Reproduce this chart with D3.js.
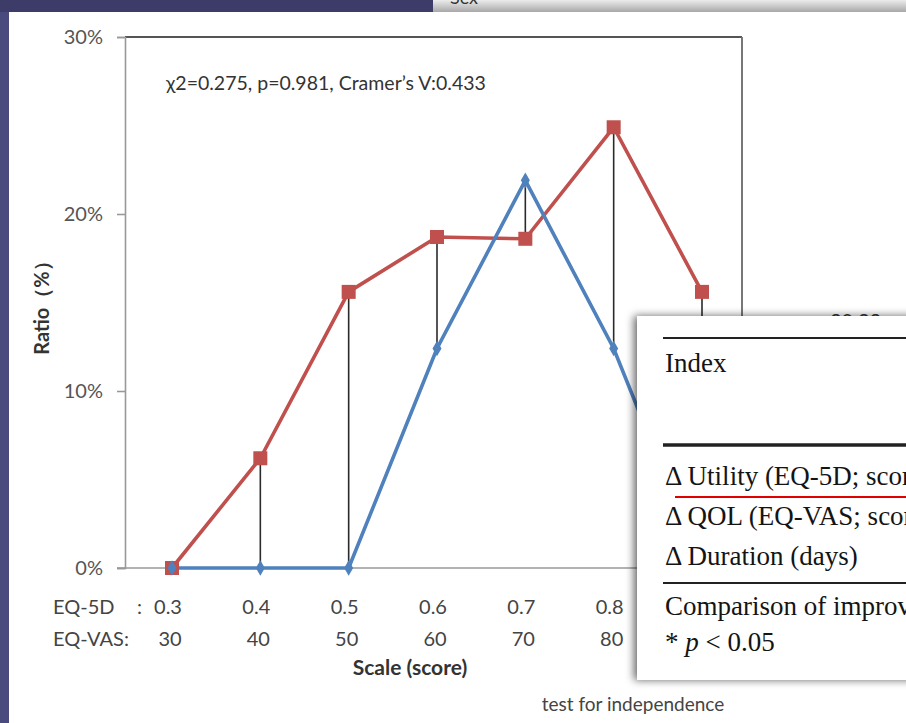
<!DOCTYPE html>
<html>
<head>
<meta charset="utf-8">
<script src="https://cdn.jsdelivr.net/npm/d3@7/dist/d3.min.js"></script>
<style>
  body { margin: 0; background: #4a4879; }
  svg { display: block; }
</style>
</head>
<body>
<div class="chart"></div>
<script>
// categories (two scales share the same positions)
var scale5D  = ["0.3", "0.4", "0.5", "0.6", "0.7", "0.8", "0.9"];
var scaleVAS = ["30", "40", "50", "60", "70", "80", "90"];

// ratio (%)
var redRatio  = [0, 6.2, 15.6, 18.7, 18.6, 24.9, 15.6];
var blueRatio = [0, 0, 0, 12.4, 21.9, 12.4, 0];

var yTicks = [0, 10, 20, 30];
var statsNote = "χ2=0.275, p=0.981, Cramer’s V:0.433";

// the table that lies on top of the chart
var tableRows = [
  {text: "Index", y: 372},
  {text: "Δ Utility (EQ-5D; score)", y: 485},
  {text: "Δ QOL (EQ-VAS; score)", y: 525},
  {text: "Δ Duration (days)", y: 565},
  {text: "Comparison of improvement", y: 615}
];
var tableRules = [{y: 338, w: 2}, {y: 445, w: 3.5}, {y: 583, w: 2}];

var w = 906, h = 723;
var tableLeft = 637;
var svg = d3.select(".chart").append("svg")
    .attr("width", w)
    .attr("height", h);

var defs = svg.append("defs");
var grad = defs.append("linearGradient").attr("id", "strip")
    .attr("x1", 0).attr("y1", 0).attr("x2", 0).attr("y2", 1);
grad.append("stop").attr("offset", "0%").attr("stop-color", "#ececec");
grad.append("stop").attr("offset", "100%").attr("stop-color", "#a8a8a8");
var shadow = defs.append("filter").attr("id", "shadow")
    .attr("x", "-10%").attr("y", "-10%").attr("width", "130%").attr("height", "130%");
shadow.append("feDropShadow").attr("dx", -3).attr("dy", 0)
    .attr("stdDeviation", 4.5).attr("flood-color", "#000").attr("flood-opacity", 0.6);

// slide background
svg.append("rect").attr("width", w).attr("height", h).attr("fill", "#4b4a7e");
svg.append("rect").attr("width", 433).attr("height", 12).attr("fill", "#3d3c69");
svg.append("rect").attr("x", 433).attr("width", w - 433).attr("height", 12).attr("fill", "url(#strip)");
svg.append("text").attr("x", 450).attr("y", 4)
    .attr("font-family", "Lato, sans-serif").attr("font-size", 18).attr("fill", "#333")
    .text("Sex");
svg.append("rect").attr("x", 9).attr("y", 12).attr("width", w - 9).attr("height", h - 12)
    .attr("fill", "#fff");

var x = d3.scalePoint().domain(scale5D).range([172, 702]);
var y = d3.scaleLinear().domain([0, 30]).range([568, 37]);

var chart = svg.append("g")
    .attr("font-family", "Lato, 'Open Sans', sans-serif");

// frame
chart.append("line").attr("x1", 125).attr("x2", 742).attr("y1", y(30)).attr("y2", y(30))
    .attr("stroke", "#555").attr("stroke-width", 2.2);
chart.append("line").attr("x1", 742).attr("x2", 742).attr("y1", y(30)).attr("y2", y(0))
    .attr("stroke", "#777").attr("stroke-width", 2);

// y axis
var yAxis = chart.append("g")
    .attr("transform", "translate(125,0)")
    .call(d3.axisLeft(y).tickValues(yTicks).tickSize(8).tickPadding(14)
      .tickFormat(function(d) { return d + "%"; }));
yAxis.select(".domain").attr("stroke", "#999").attr("stroke-width", 1.6);
yAxis.selectAll(".tick line").attr("stroke", "#999").attr("stroke-width", 1.6);
yAxis.selectAll(".tick text").attr("font-size", 20).attr("fill", "#555")
    .attr("font-family", "Lato, sans-serif");

// x axis base line
chart.append("line").attr("x1", 117).attr("x2", 742).attr("y1", y(0)).attr("y2", y(0))
    .attr("stroke", "#999").attr("stroke-width", 1.6);

// x tick labels, two rows (the last column lies under the table)
var shown = scale5D.filter(function(d) { return x(d) < tableLeft; });
chart.selectAll(".lab5d").data(shown).enter().append("text")
    .attr("x", function(d) { return x(d) - 4; })
    .attr("y", 614)
    .attr("text-anchor", "middle").attr("font-size", 20).attr("fill", "#444")
    .text(function(d) { return d; });
chart.selectAll(".labvas").data(shown).enter().append("text")
    .attr("x", function(d) { return x(d) - 2; })
    .attr("y", 646)
    .attr("text-anchor", "middle").attr("font-size", 20).attr("fill", "#444")
    .text(function(d) { return scaleVAS[scale5D.indexOf(d)]; });
chart.append("text").attr("x", 53).attr("y", 614).attr("font-size", 20).attr("fill", "#444")
    .text("EQ-5D");
chart.append("text").attr("x", x(scale5D[0]) - 30).attr("y", 614).attr("font-size", 20)
    .attr("text-anchor", "end").attr("fill", "#444").text(":");
chart.append("text").attr("x", 53).attr("y", 646).attr("font-size", 20).attr("fill", "#444")
    .text("EQ-VAS:");

chart.append("text").attr("x", 410).attr("y", 675).attr("text-anchor", "middle")
    .attr("font-size", 21).attr("font-weight", "bold").attr("fill", "#333")
    .text("Scale (score)");
chart.append("text").attr("transform", "translate(49,303) rotate(-90)")
    .attr("text-anchor", "middle").attr("font-size", 20).attr("font-weight", "bold")
    .attr("fill", "#333").text("Ratio（%）");
chart.append("text").attr("x", 166).attr("y", 90).attr("font-size", 19.5).attr("fill", "#333")
    .text(statsNote);

// high-low lines
var pairs = scale5D.map(function(c, i) { return {c: c, a: redRatio[i], b: blueRatio[i]}; })
    .filter(function(d) { return d.a !== d.b; });
chart.selectAll(".hilo").data(pairs).enter().append("line")
    .attr("x1", function(d) { return x(d.c); }).attr("x2", function(d) { return x(d.c); })
    .attr("y1", function(d) { return y(Math.max(d.a, d.b)); })
    .attr("y2", function(d) { return y(Math.min(d.a, d.b)); })
    .attr("stroke", "#2a2a2a").attr("stroke-width", 1.6);

var line = d3.line()
    .x(function(d, i) { return x(scale5D[i]); })
    .y(function(d) { return y(d); });

chart.append("path").datum(redRatio).attr("d", line)
    .attr("fill", "none").attr("stroke", "#c0504d").attr("stroke-width", 3.6);
chart.append("path").datum(blueRatio).attr("d", line)
    .attr("fill", "none").attr("stroke", "#4f81bd").attr("stroke-width", 3.6);

chart.selectAll(".sq").data(redRatio).enter().append("rect")
    .attr("x", function(d, i) { return x(scale5D[i]) - 7; })
    .attr("y", function(d) { return y(d) - 7; })
    .attr("width", 14).attr("height", 14).attr("fill", "#c0504d");
chart.selectAll(".dia").data(blueRatio).enter().append("path")
    .attr("transform", function(d, i) { return "translate(" + x(scale5D[i]) + "," + y(d) + ")"; })
    .attr("d", d3.symbol().type(d3.symbolDiamond).size(70))
    .attr("fill", "#4f81bd");

chart.append("text").attr("x", 633).attr("y", 711).attr("text-anchor", "middle")
    .attr("font-size", 19).attr("fill", "#444").text("test for independence");

// text of the slide that the table covers
svg.append("text").attr("x", 830).attr("y", 328).attr("font-family", "Lato, sans-serif")
    .attr("font-size", 20).attr("fill", "#333").text("20.23");

// overlaid table
var tbl = svg.append("g");
tbl.append("rect").attr("x", tableLeft).attr("y", 316).attr("width", 300).attr("height", 364)
    .attr("fill", "#fff").attr("filter", "url(#shadow)");
tbl.selectAll(".rule").data(tableRules).enter().append("line")
    .attr("x1", 663).attr("x2", w).attr("y1", function(d) { return d.y; }).attr("y2", function(d) { return d.y; })
    .attr("stroke", "#222").attr("stroke-width", function(d) { return d.w; });
tbl.selectAll(".row").data(tableRows).enter().append("text")
    .attr("x", 665).attr("y", function(d) { return d.y; })
    .attr("font-family", "'Liberation Serif', 'Times New Roman', serif")
    .attr("font-size", 27).attr("fill", "#141414")
    .text(function(d) { return d.text; });
var pv = tbl.append("text").attr("x", 665).attr("y", 651)
    .attr("font-family", "'Liberation Serif', 'Times New Roman', serif")
    .attr("font-size", 27).attr("fill", "#141414");
pv.append("tspan").text("* ");
pv.append("tspan").attr("font-style", "italic").text("p");
pv.append("tspan").text(" < 0.05");
tbl.append("line").attr("x1", 675).attr("x2", w).attr("y1", 497).attr("y2", 497)
    .attr("stroke", "#e00000").attr("stroke-width", 2.2);
</script>
</body>
</html>
